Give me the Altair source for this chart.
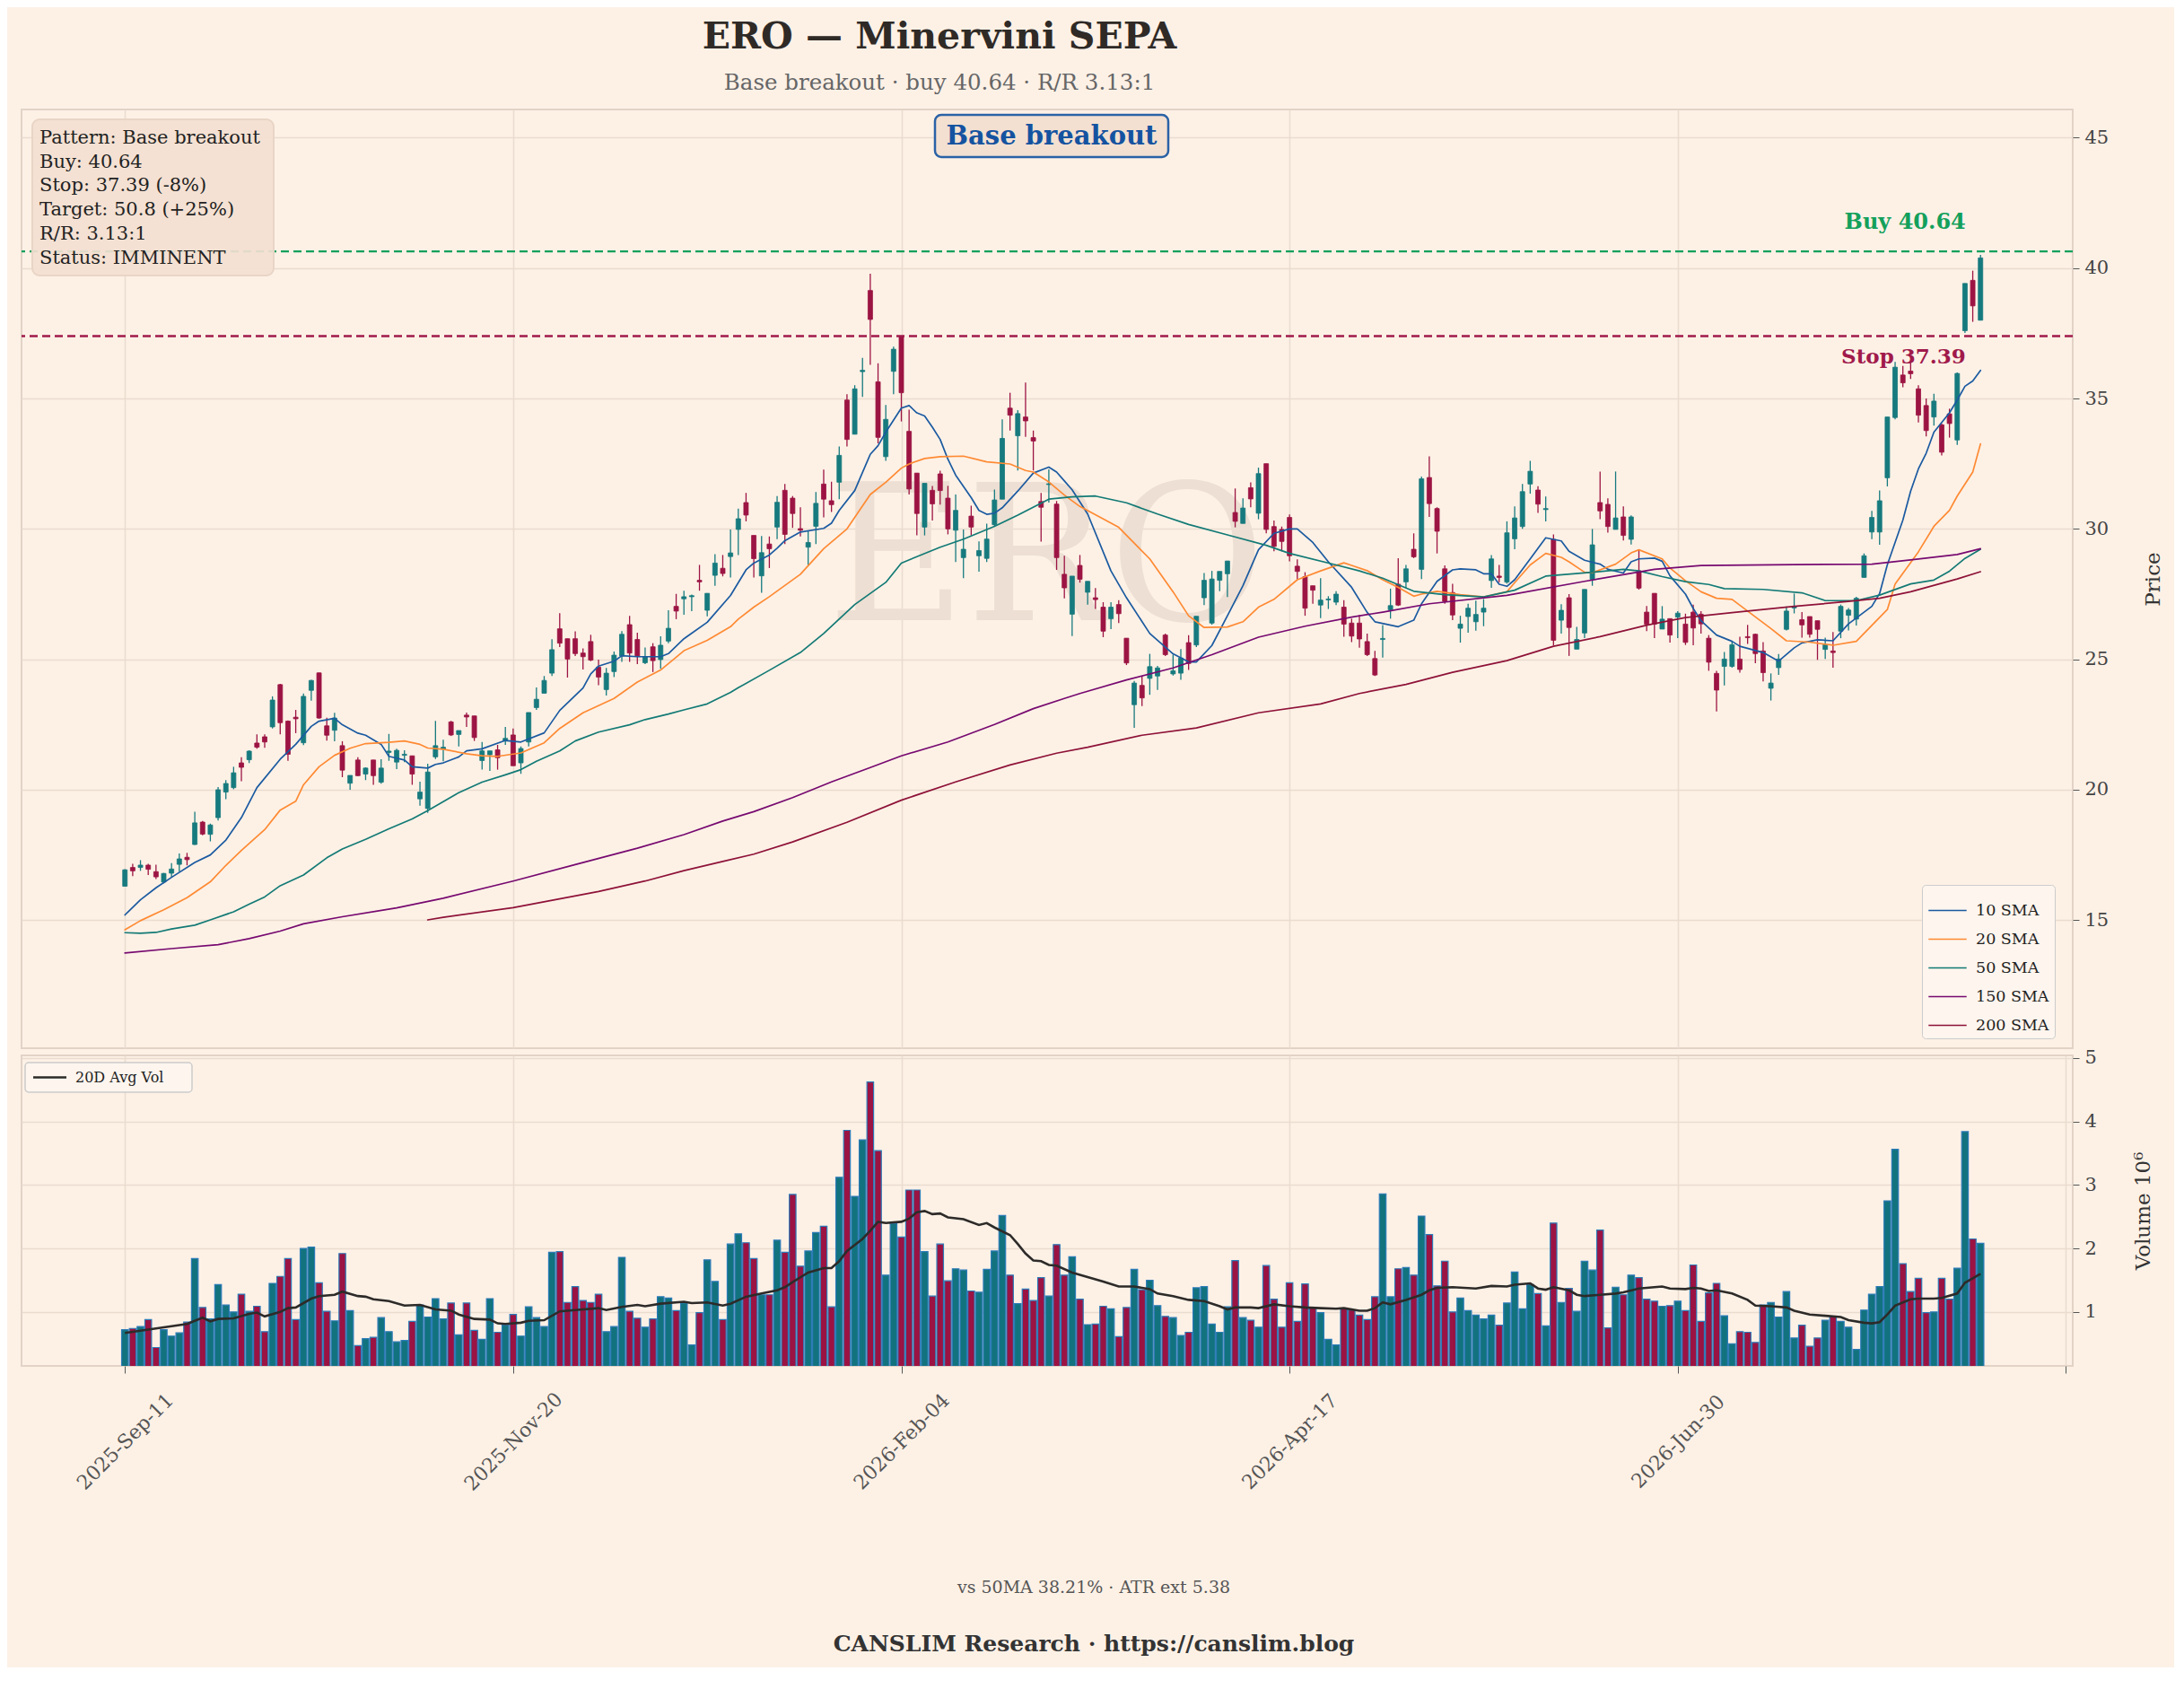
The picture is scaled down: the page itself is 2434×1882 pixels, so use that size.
import altair as alt
import pandas as pd

# ---------------- data ----------------
OPEN = [16.30, 17.02, 17.02, 17.11, 16.86, 16.46, 16.80, 17.14, 17.41, 17.90,
        18.76, 18.29, 18.93, 19.91, 20.08, 21.03, 21.15, 21.79, 22.03, 22.41,
        24.03, 22.63, 22.78, 21.80, 23.81, 24.48, 22.45, 22.28, 21.69, 20.25,
        21.14, 20.60, 21.14, 20.29, 21.43, 21.06, 21.32, 21.30, 19.65, 19.28,
        21.26, 21.55, 22.60, 22.12, 22.86, 22.83, 21.12, 21.34, 21.53, 21.87,
        22.10, 21.03, 21.83, 23.15, 23.70, 24.47, 26.17, 25.79, 25.79, 25.24,
        25.68, 24.70, 23.84, 24.53, 25.13, 26.33, 25.76, 24.87, 25.48, 24.99,
        25.70, 27.03, 27.32, 27.40, 28.03, 26.88, 28.22, 28.49, 28.94, 29.98,
        31.01, 29.75, 28.20, 29.42, 30.07, 31.48, 31.18, 30.01, 29.30, 30.10,
        31.72, 31.08, 31.79, 34.94, 33.63, 36.03, 39.14, 35.64, 32.77, 36.04,
        37.38, 33.74, 32.14, 30.07, 31.48, 32.11, 31.18, 29.95, 28.90, 30.49,
        28.97, 28.87, 30.16, 31.14, 34.63, 33.57, 34.29, 33.50, 31.05, 31.70,
        30.95, 28.26, 26.73, 28.60, 27.57, 27.36, 27.00, 26.56, 27.10, 25.81,
        23.26, 24.00, 24.27, 24.36, 25.93, 24.44, 24.47, 25.64, 25.55, 27.36,
        26.39, 28.03, 28.28, 30.63, 30.21, 31.58, 30.60, 32.50, 30.09, 29.98,
        30.44, 28.57, 28.17, 27.82, 27.08, 27.28, 27.19, 27.00, 26.39, 26.39,
        25.68, 25.03, 25.76, 26.90, 27.88, 27.97, 29.22, 28.45, 31.97, 30.78,
        28.47, 27.56, 26.19, 26.64, 26.44, 26.81, 28.02, 28.19, 27.96, 29.62,
        30.09, 31.72, 31.49, 30.74, 29.60, 26.50, 27.36, 25.39, 26.01, 28.07,
        31.01, 30.94, 29.98, 30.46, 29.60, 28.39, 26.81, 27.53, 26.16, 26.56,
        26.62, 26.35, 26.81, 26.73, 25.81, 24.46, 24.73, 24.73, 25.01, 25.87,
        25.96, 25.32, 23.89, 24.68, 26.15, 26.97, 26.52, 26.64, 26.48, 25.38,
        25.32, 26.08, 26.69, 26.54, 28.14, 29.88, 29.88, 31.96, 34.27, 35.90,
        36.05, 35.37, 34.73, 34.29, 33.99, 34.41, 33.41, 37.60, 39.53, 38.00]

HIGH = [16.95, 17.16, 17.30, 17.16, 17.13, 16.81, 17.19, 17.56, 17.58, 19.16,
        18.80, 18.70, 20.10, 20.37, 20.88, 21.25, 21.51, 22.12, 22.12, 23.58,
        24.06, 22.66, 23.06, 23.69, 24.21, 24.49, 22.76, 22.95, 21.86, 20.55,
        21.25, 20.86, 21.14, 21.17, 22.14, 21.57, 21.51, 21.30, 20.31, 21.00,
        22.64, 21.92, 22.64, 22.27, 22.96, 22.83, 21.83, 21.49, 21.72, 22.41,
        22.35, 21.66, 22.96, 23.92, 24.36, 25.77, 26.77, 25.79, 26.07, 25.42,
        25.94, 24.99, 24.67, 25.30, 26.08, 26.67, 26.02, 25.45, 25.62, 25.88,
        26.88, 27.51, 27.63, 27.48, 28.62, 27.53, 29.03, 29.00, 29.98, 30.78,
        31.38, 29.75, 29.73, 29.71, 31.26, 31.72, 31.26, 30.83, 29.91, 31.41,
        32.27, 31.81, 33.16, 35.16, 35.51, 36.56, 39.78, 36.35, 34.75, 36.99,
        37.38, 34.57, 32.14, 31.75, 31.65, 32.23, 31.65, 31.32, 29.98, 30.89,
        29.52, 30.20, 31.51, 34.20, 35.22, 34.55, 35.61, 33.77, 31.38, 32.28,
        31.07, 28.97, 28.19, 29.00, 27.99, 27.73, 27.19, 27.19, 27.27, 25.81,
        24.17, 24.36, 25.21, 24.75, 25.99, 25.18, 25.39, 25.93, 26.65, 28.31,
        28.39, 28.37, 28.77, 31.55, 31.17, 31.78, 32.35, 32.50, 30.32, 30.09,
        30.55, 28.83, 28.34, 27.82, 28.11, 27.42, 27.61, 27.27, 26.56, 26.70,
        25.99, 25.32, 26.31, 27.71, 28.88, 28.62, 29.83, 32.01, 32.78, 30.83,
        28.60, 27.90, 26.67, 27.13, 27.25, 27.31, 29.00, 28.62, 30.29, 30.86,
        31.72, 32.61, 31.64, 31.24, 29.79, 27.11, 27.50, 26.24, 27.68, 30.00,
        32.20, 31.17, 32.20, 30.86, 30.52, 29.22, 27.04, 27.53, 27.04, 26.56,
        26.85, 26.75, 27.10, 26.85, 25.93, 24.56, 25.28, 25.69, 25.87, 26.32,
        25.99, 25.66, 24.46, 25.20, 27.03, 27.52, 26.81, 26.64, 26.48, 25.83,
        26.05, 27.10, 26.97, 27.40, 29.06, 30.69, 31.47, 34.29, 36.40, 36.25,
        36.45, 35.51, 35.00, 35.18, 34.04, 34.61, 36.00, 39.41, 39.90, 40.51]

LOW = [16.30, 16.69, 16.89, 16.73, 16.58, 16.41, 16.64, 16.87, 17.10, 17.88,
       18.25, 18.02, 18.82, 19.64, 20.02, 20.33, 21.02, 21.57, 21.61, 22.35,
       22.12, 21.11, 22.17, 21.71, 23.41, 22.72, 21.88, 21.86, 20.48, 20.00,
       20.52, 20.37, 20.19, 20.23, 21.11, 20.79, 21.06, 20.19, 19.39, 19.11,
       21.18, 21.09, 22.06, 21.66, 22.41, 21.87, 20.77, 20.72, 20.77, 21.72,
       20.92, 20.61, 21.66, 23.06, 23.70, 24.36, 25.47, 24.30, 25.13, 24.61,
       24.93, 24.01, 23.61, 24.32, 24.90, 24.90, 24.82, 24.82, 24.51, 24.64,
       25.62, 26.54, 26.71, 26.85, 27.63, 26.65, 27.82, 28.18, 28.14, 29.00,
       30.29, 28.14, 27.55, 28.50, 29.61, 29.42, 30.04, 29.71, 28.60, 29.42,
       30.44, 30.65, 31.14, 33.16, 33.63, 35.06, 36.29, 33.28, 32.61, 35.16,
       34.12, 31.32, 29.75, 29.75, 30.32, 30.93, 29.79, 28.73, 28.11, 29.75,
       28.36, 28.73, 30.10, 31.14, 33.77, 32.24, 33.53, 32.24, 29.51, 31.01,
       28.43, 27.34, 25.89, 27.94, 27.10, 26.93, 25.85, 26.16, 26.39, 24.78,
       22.37, 23.21, 23.64, 23.83, 25.13, 24.38, 24.21, 24.59, 25.47, 27.08,
       26.33, 27.61, 27.39, 30.06, 30.21, 30.83, 30.37, 29.83, 29.14, 29.14,
       28.76, 28.07, 26.67, 27.13, 26.58, 26.93, 27.08, 25.87, 25.66, 25.44,
       25.13, 24.36, 25.07, 26.56, 27.04, 27.73, 28.88, 28.08, 30.46, 29.06,
       27.13, 26.50, 25.64, 26.02, 26.10, 26.27, 27.74, 27.96, 27.90, 29.22,
       30.00, 31.35, 30.61, 30.29, 25.53, 25.99, 25.13, 25.39, 25.81, 27.82,
       30.37, 29.86, 29.98, 29.56, 29.40, 27.67, 26.08, 25.81, 26.16, 25.64,
       25.81, 25.55, 25.54, 25.99, 24.56, 23.00, 24.00, 24.68, 24.49, 25.59,
       24.85, 24.15, 23.42, 24.40, 26.11, 26.76, 25.83, 25.83, 24.98, 25.01,
       24.68, 25.81, 26.11, 26.30, 28.14, 29.61, 29.39, 31.63, 34.20, 35.43,
       35.75, 34.08, 33.55, 33.96, 32.82, 33.50, 33.22, 37.51, 37.94, 38.00]

CLOSE = [16.93, 16.89, 17.11, 16.95, 16.66, 16.79, 16.96, 17.35, 17.32, 18.73,
         18.30, 18.65, 20.00, 20.24, 20.65, 20.86, 21.48, 21.63, 21.83, 23.44,
         22.57, 21.36, 22.72, 23.58, 24.19, 22.75, 22.09, 22.75, 20.75, 20.55,
         20.54, 20.83, 20.54, 20.83, 21.48, 21.51, 21.36, 20.60, 19.91, 20.68,
         21.69, 21.63, 22.10, 22.27, 22.79, 22.00, 21.49, 21.49, 21.23, 21.97,
         20.92, 21.58, 22.96, 23.47, 24.19, 25.37, 25.62, 25.01, 25.22, 25.10,
         24.97, 24.32, 24.47, 25.16, 25.96, 25.24, 25.13, 25.10, 24.95, 25.54,
         26.19, 26.85, 27.40, 27.44, 27.97, 27.53, 28.69, 28.29, 29.08, 30.39,
         30.53, 28.86, 29.09, 29.24, 31.02, 29.79, 30.59, 29.95, 29.48, 30.98,
         31.14, 30.93, 32.82, 33.43, 35.37, 36.08, 38.03, 33.51, 34.20, 36.89,
         35.22, 31.53, 30.59, 31.75, 30.96, 31.47, 30.00, 30.71, 29.22, 30.07,
         29.17, 29.61, 31.11, 33.47, 34.36, 34.42, 34.14, 33.37, 30.83, 31.73,
         28.90, 27.74, 28.19, 28.07, 27.99, 27.29, 26.08, 27.00, 26.75, 24.86,
         24.09, 23.52, 24.72, 24.67, 25.18, 24.56, 25.05, 24.84, 26.65, 28.03,
         28.08, 28.37, 28.77, 30.29, 30.80, 31.15, 32.12, 29.98, 29.33, 29.52,
         28.97, 28.37, 26.96, 27.65, 27.27, 27.31, 27.50, 26.35, 25.89, 25.78,
         25.18, 24.40, 25.80, 27.06, 27.08, 28.47, 28.93, 31.92, 30.97, 29.91,
         27.22, 26.70, 26.35, 26.96, 26.72, 26.96, 28.85, 28.14, 29.85, 30.42,
         31.43, 32.21, 30.95, 30.78, 25.73, 26.88, 26.22, 25.76, 27.68, 29.39,
         30.69, 30.09, 30.42, 29.75, 30.46, 27.73, 26.35, 26.35, 26.54, 25.93,
         26.77, 25.65, 26.20, 26.36, 24.89, 23.82, 25.01, 25.56, 24.61, 25.83,
         25.22, 24.49, 24.09, 25.01, 26.85, 27.03, 26.32, 25.96, 26.15, 25.56,
         25.26, 27.03, 26.89, 27.34, 28.97, 30.44, 31.08, 34.29, 36.20, 35.60,
         35.95, 34.36, 33.77, 34.90, 32.94, 34.04, 35.96, 39.41, 38.55, 40.39]

VOLUME_M = [0.72, 0.74, 0.77, 0.88, 0.44, 0.72, 0.62, 0.67, 0.84, 1.84,
            1.07, 0.89, 1.43, 1.11, 1.00, 1.28, 1.01, 1.09, 0.69, 1.45,
            1.56, 1.84, 0.88, 2.00, 2.02, 1.46, 1.01, 0.86, 1.92, 1.02,
            0.47, 0.58, 0.60, 0.91, 0.69, 0.53, 0.55, 0.85, 1.11, 0.92,
            1.21, 0.89, 1.14, 0.64, 1.14, 0.71, 0.57, 1.21, 0.68, 0.79,
            0.96, 0.62, 1.08, 0.91, 0.77, 1.94, 1.95, 1.15, 1.40, 1.18,
            1.15, 1.28, 0.69, 0.77, 1.86, 1.01, 0.90, 0.76, 0.89, 1.24,
            1.22, 1.02, 1.14, 0.48, 0.99, 1.82, 1.48, 0.88, 2.07, 2.23,
            2.09, 1.84, 1.27, 1.27, 2.13, 1.94, 2.85, 1.72, 1.96, 2.25,
            2.35, 1.08, 3.12, 3.86, 2.82, 3.71, 4.62, 3.54, 1.58, 2.39,
            2.18, 2.92, 2.92, 1.95, 1.25, 2.07, 1.49, 1.68, 1.66, 1.33,
            1.31, 1.67, 1.96, 2.52, 1.58, 1.13, 1.36, 1.18, 1.54, 1.25,
            2.06, 1.58, 1.87, 1.20, 0.80, 0.81, 1.09, 1.05, 0.61, 1.07,
            1.67, 1.35, 1.50, 1.10, 0.93, 0.91, 0.63, 0.68, 1.38, 1.40,
            0.81, 0.68, 1.08, 1.81, 0.91, 0.87, 0.76, 1.73, 1.20, 0.76,
            1.46, 0.85, 1.44, 1.07, 0.99, 0.57, 0.48, 1.06, 1.03, 0.95,
            0.88, 1.24, 2.86, 1.24, 1.68, 1.70, 1.58, 2.51, 2.22, 1.41,
            1.80, 1.00, 1.22, 1.02, 0.95, 0.89, 0.95, 0.79, 1.14, 1.63,
            1.05, 1.43, 1.29, 0.78, 2.40, 1.15, 1.37, 1.01, 1.80, 1.66,
            2.29, 0.75, 1.39, 1.27, 1.58, 1.54, 1.20, 1.17, 1.09, 1.10,
            1.17, 1.02, 1.74, 0.85, 1.30, 1.45, 0.94, 0.50, 0.69, 0.68,
            0.52, 1.11, 1.15, 0.92, 1.32, 0.59, 0.79, 0.46, 0.59, 0.87,
            0.92, 0.85, 0.76, 0.41, 1.03, 1.28, 1.40, 2.75, 3.56, 1.76,
            1.32, 1.53, 0.99, 1.00, 1.53, 1.20, 1.69, 3.84, 2.15, 2.08]

# moving-average lines as (bar index, value)
SMA10 = [(0, 15.20), (2, 15.78), (4, 16.24), (6, 16.64), (9, 17.21), (11, 17.50), (13, 18.07),
         (15, 18.93), (17, 20.08), (20, 21.17), (22, 21.74), (24, 22.43), (25, 22.63), (27, 22.74),
         (28, 22.49), (30, 22.17), (31, 22.09), (33, 21.74), (34, 21.28), (36, 21.14), (37, 20.88),
         (39, 20.83), (40, 20.97), (41, 21.03), (43, 21.26), (44, 21.49), (46, 21.57), (49, 21.89),
         (51, 21.83), (54, 22.18), (56, 23.04), (59, 23.90), (60, 24.44), (61, 24.74), (63, 24.93),
         (64, 25.14), (66, 25.10), (69, 25.10), (70, 25.22), (72, 25.79), (75, 26.42), (78, 27.45),
         (80, 28.43), (81, 28.69), (83, 29.00), (84, 29.26), (85, 29.55), (87, 29.88), (90, 30.02),
         (91, 30.22), (92, 30.71), (94, 31.47), (96, 32.86), (97, 33.19), (98, 33.71), (100, 34.63),
         (101, 34.73), (102, 34.45), (103, 34.33), (104, 33.90), (105, 33.43), (106, 32.67),
         (107, 32.06), (109, 31.20), (110, 30.71), (111, 30.56), (112, 30.60), (113, 30.81),
         (115, 31.45), (117, 32.14), (119, 32.37), (120, 32.18), (121, 31.84), (122, 31.50),
         (124, 30.57), (127, 28.39), (129, 27.36), (132, 25.99), (135, 25.21), (137, 24.90),
         (138, 24.90), (140, 25.53), (142, 26.67), (144, 27.82), (146, 29.20), (148, 29.83),
         (150, 30.00), (151, 30.00), (153, 29.48), (155, 28.74), (158, 27.76), (160, 26.80),
         (161, 26.44), (164, 26.25), (166, 26.50), (167, 27.13), (169, 27.99), (171, 28.43),
         (172, 28.47), (174, 28.43), (175, 28.28), (176, 28.28), (177, 27.88), (178, 27.80),
         (179, 28.05), (181, 28.85), (183, 29.66), (185, 29.54), (186, 29.14), (188, 28.80),
         (190, 28.65), (191, 28.45), (193, 28.31), (194, 28.74), (195, 28.85), (197, 28.88),
         (198, 28.76), (199, 28.20), (201, 27.50), (202, 26.95), (203, 26.48), (205, 25.93),
         (207, 25.69), (208, 25.50), (211, 25.26), (213, 24.93), (215, 25.44), (216, 25.63),
         (218, 25.75), (220, 25.71), (222, 26.36), (225, 27.03), (226, 27.52), (227, 28.63),
         (229, 30.34), (230, 31.45), (231, 32.30), (232, 32.90), (233, 33.71), (235, 34.45),
         (236, 34.94), (237, 35.47), (238, 35.67), (239, 36.08)]

SMA20 = [(0, 14.63), (2, 14.98), (5, 15.40), (8, 15.86), (11, 16.47), (13, 17.10), (15, 17.67),
         (18, 18.47), (20, 19.22), (22, 19.56), (23, 20.19), (25, 20.88), (27, 21.32), (29, 21.59),
         (31, 21.77), (34, 21.82), (36, 21.87), (38, 21.74), (39, 21.60), (41, 21.55), (44, 21.38),
         (46, 21.30), (48, 21.28), (51, 21.41), (54, 21.80), (56, 22.35), (59, 22.95), (63, 23.50),
         (66, 24.13), (69, 24.59), (72, 25.33), (75, 25.73), (78, 26.25), (79, 26.54), (81, 27.00),
         (83, 27.40), (87, 28.26), (90, 29.24), (93, 30.00), (96, 31.32), (98, 31.79), (100, 32.33),
         (101, 32.49), (103, 32.70), (105, 32.77), (108, 32.79), (111, 32.57), (114, 32.49),
         (116, 32.24), (117, 32.18), (119, 31.80), (121, 31.30), (123, 30.86), (128, 30.06),
         (132, 28.85), (135, 27.59), (137, 26.67), (139, 26.22), (142, 26.24), (144, 26.44),
         (146, 27.00), (148, 27.30), (151, 28.05), (154, 28.39), (157, 28.70), (158, 28.60),
         (160, 28.40), (162, 28.05), (164, 27.76), (166, 27.42), (167, 27.50), (169, 27.61),
         (172, 27.48), (175, 27.39), (178, 27.59), (179, 27.94), (181, 28.62), (183, 29.06),
         (185, 28.91), (186, 28.74), (188, 28.34), (189, 28.32), (192, 28.65), (194, 29.08),
         (195, 29.20), (198, 28.85), (199, 28.50), (201, 28.01), (203, 27.59), (205, 27.34),
         (207, 27.30), (209, 26.85), (212, 26.18), (214, 25.71), (217, 25.66), (220, 25.54),
         (223, 25.69), (225, 26.30), (227, 26.91), (228, 27.89), (231, 29.12), (233, 30.10),
         (235, 30.71), (236, 31.26), (238, 32.18), (239, 33.26)]

SMA50 = [(0, 14.52), (2, 14.50), (4, 14.53), (6, 14.66), (9, 14.81), (11, 15.01), (14, 15.32),
         (16, 15.61), (18, 15.89), (20, 16.32), (23, 16.73), (26, 17.39), (28, 17.73), (31, 18.10),
         (34, 18.50), (37, 18.88), (39, 19.20), (41, 19.54), (43, 19.89), (46, 20.29), (49, 20.57),
         (51, 20.77), (53, 21.09), (56, 21.49), (58, 21.87), (61, 22.21), (65, 22.49), (67, 22.69),
         (70, 22.90), (72, 23.06), (75, 23.29), (78, 23.73), (79, 23.91), (83, 24.58), (87, 25.26),
         (90, 25.99), (94, 27.10), (98, 27.95), (100, 28.69), (105, 29.30), (108, 29.61),
         (112, 30.10), (115, 30.53), (119, 31.14), (122, 31.23), (125, 31.26), (129, 31.00),
         (133, 30.57), (137, 30.17), (142, 29.77), (147, 29.37), (150, 29.06), (156, 28.62),
         (159, 28.39), (162, 28.11), (166, 27.61), (170, 27.48), (175, 27.39), (179, 27.65),
         (183, 28.19), (189, 28.34), (193, 28.45), (195, 28.39), (198, 28.17), (201, 27.98),
         (204, 27.87), (206, 27.71), (211, 27.68), (216, 27.55), (219, 27.25), (223, 27.25),
         (226, 27.46), (230, 27.89), (233, 28.04), (235, 28.38), (237, 28.87), (239, 29.22)]

SMA150 = [(0, 13.74), (6, 13.91), (12, 14.06), (16, 14.29), (20, 14.58), (23, 14.86), (28, 15.13),
          (35, 15.47), (41, 15.84), (50, 16.50), (58, 17.13), (66, 17.76), (72, 18.28), (77, 18.80),
          (81, 19.16), (86, 19.70), (91, 20.30), (96, 20.85), (100, 21.30), (106, 21.83),
          (112, 22.50), (117, 23.11), (121, 23.50), (123, 23.69), (129, 24.21), (135, 24.67),
          (140, 25.18), (146, 25.85), (152, 26.27), (158, 26.62), (162, 26.81), (168, 27.13),
          (178, 27.45), (188, 27.99), (197, 28.45), (203, 28.60), (215, 28.63), (225, 28.65),
          (230, 28.81), (236, 29.02), (239, 29.24)]

SMA200 = [(39, 15.01), (41, 15.11), (50, 15.48), (61, 16.10), (67, 16.50), (72, 16.90), (77, 17.25),
          (81, 17.53), (86, 18.00), (93, 18.75), (100, 19.60), (107, 20.30), (114, 20.95),
          (120, 21.40), (124, 21.63), (131, 22.09), (138, 22.37), (146, 22.95), (154, 23.29),
          (159, 23.69), (165, 24.04), (171, 24.50), (178, 24.95), (184, 25.50), (190, 25.87),
          (196, 26.31), (201, 26.60), (207, 26.79), (215, 27.03), (222, 27.22), (226, 27.34),
          (230, 27.59), (236, 28.08), (239, 28.36)]

AVG_VOL = [(0, 0.67), (8, 0.81), (10, 0.91), (11, 0.85), (12, 0.89), (14, 0.90), (16, 0.97), (17, 0.99),
           (18, 0.93), (20, 1.00), (21, 1.06), (22, 1.07), (24, 1.21), (25, 1.25), (27, 1.27), (28, 1.32),
           (30, 1.25), (31, 1.24), (32, 1.20), (34, 1.17), (36, 1.10), (38, 1.11), (40, 1.04), (42, 1.02),
           (43, 0.96), (45, 0.89), (47, 0.88), (48, 0.82), (49, 0.81), (51, 0.83), (52, 0.86), (54, 0.87),
           (56, 1.01), (58, 1.03), (61, 1.06), (62, 1.03), (64, 1.08), (66, 1.11), (67, 1.09), (69, 1.13),
           (72, 1.16), (73, 1.14), (75, 1.15), (77, 1.10), (78, 1.13), (80, 1.24), (82, 1.29), (84, 1.34),
           (85, 1.39), (86, 1.47), (88, 1.62), (90, 1.69), (91, 1.69), (92, 1.80), (93, 1.96), (95, 2.15),
           (96, 2.28), (97, 2.42), (98, 2.40), (100, 2.42), (101, 2.47), (102, 2.57), (103, 2.59),
           (104, 2.54), (105, 2.55), (106, 2.49), (108, 2.46), (110, 2.37), (111, 2.40), (112, 2.33),
           (114, 2.21), (115, 2.07), (116, 1.92), (117, 1.81), (118, 1.80), (119, 1.74), (120, 1.73),
           (122, 1.62), (124, 1.55), (126, 1.48), (128, 1.40), (130, 1.40), (132, 1.36), (133, 1.29),
           (135, 1.25), (137, 1.19), (139, 1.17), (141, 1.09), (142, 1.04), (143, 1.07), (145, 1.07),
           (146, 1.06), (148, 1.12), (150, 1.09), (152, 1.07), (154, 1.06), (156, 1.05), (157, 1.06),
           (159, 1.02), (160, 1.02), (161, 1.06), (162, 1.15), (163, 1.12), (165, 1.19), (167, 1.27),
           (168, 1.34), (169, 1.38), (171, 1.39), (174, 1.37), (176, 1.41), (178, 1.40), (179, 1.43),
           (181, 1.45), (182, 1.37), (183, 1.35), (184, 1.39), (186, 1.34), (187, 1.27), (188, 1.25),
           (190, 1.27), (192, 1.29), (193, 1.31), (195, 1.37), (197, 1.39), (198, 1.40), (199, 1.37),
           (201, 1.36), (202, 1.38), (203, 1.37), (204, 1.33), (205, 1.34), (207, 1.29), (209, 1.19),
           (210, 1.10), (212, 1.09), (214, 1.07), (215, 1.02), (217, 0.96), (219, 0.94), (221, 0.92),
           (222, 0.87), (224, 0.83), (225, 0.82), (226, 0.84), (227, 0.96), (228, 1.10), (230, 1.20),
           (231, 1.21), (233, 1.21), (234, 1.22), (236, 1.29), (237, 1.46), (238, 1.53), (239, 1.60)]

TICK_IDX = [0, 50, 100, 150, 200]
TICK_LABELS = ["2025-Sep-11", "2025-Nov-20", "2026-Feb-04", "2026-Apr-17", "2026-Jun-30"]
PRICE_TICKS = [15, 20, 25, 30, 35, 40, 45]
VOL_TICKS = [1, 2, 3, 4, 5]

SMA_NAMES = ["10 SMA", "20 SMA", "50 SMA", "150 SMA", "200 SMA"]
BUY_PRICE = 40.64
STOP_PRICE = 37.39
TITLE = "ERO \u2014 Minervini SEPA"
SUBTITLE = "Base breakout \u00b7 buy 40.64 \u00b7 R/R 3.13:1"
INFO_LINES = ["Pattern: Base breakout", "Buy: 40.64", "Stop: 37.39 (-8%)",
              "Target: 50.8 (+25%)", "R/R: 3.13:1", "Status: IMMINENT"]
BADGE = "Base breakout"
FOOT1 = "vs 50MA 38.21% \u00b7 ATR ext 5.38"
FOOT2 = "CANSLIM Research  \u00b7  https://canslim.blog"

# ---------------- styling ----------------
FONT = "DejaVu Serif"
BG = "#fdf1e6"
GRID = "#eadccf"
FRAME = "#e2d3c6"
UP = "#167a7e"
DN = "#9c1443"
VUP = "#12737f"
VDN = "#9b1343"
VEDGE = "#2c7bb8"
SMA_COLORS = ["#1b5aa0", "#ff8a33", "#137a75", "#770a70", "#8e1238"]
SMA_WIDTHS = [1.7, 1.7, 2.3, 2.3, 3.0]
GREEN = "#13a05b"
STOPC = "#a01a4b"

W, H1, H2 = 2286, 1046, 346
XMIN, XMAX = -12.74, 250.3

df = pd.DataFrame({"i": list(range(len(CLOSE))), "open": OPEN, "high": HIGH,
                   "low": LOW, "close": CLOSE, "vol": VOLUME_M})

rows = []
for name, pts in zip(SMA_NAMES, [SMA10, SMA20, SMA50, SMA150, SMA200]):
    for a, b in pts:
        rows.append({"i": a, "v": b, "name": name})
sma_df = pd.DataFrame(rows)
av_df = pd.DataFrame({"i": [p[0] for p in AVG_VOL], "v": [p[1] for p in AVG_VOL]})

xscale = alt.Scale(domain=[XMIN, XMAX], nice=False, zero=False)
pscale = alt.Scale(domain=[10.09, 46.08], nice=False, zero=False)
vscale = alt.Scale(domain=[0.15, 5.04], nice=False, zero=False)

x_axis_p = alt.Axis(values=TICK_IDX, labels=False, ticks=False, domain=False, title=None, grid=True)
label_expr = "''"
for idx, lab in reversed(list(zip(TICK_IDX, TICK_LABELS))):
    label_expr = f"datum.value == {idx} ? '{lab}' : ({label_expr})"
x_axis_v = alt.Axis(values=TICK_IDX + [250], labelExpr=label_expr, labelAngle=315,
                    labelAlign="center", labelBaseline="middle", labelPadding=76,
                    tickSize=8, labelOverlap=False, labelFlush=False, grid=True, domain=False,
                    title=None, labelFontSize=22, labelColor="#555555")
y_axis_p = alt.Axis(orient="right", values=PRICE_TICKS, title="Price", titleAngle=270,
                    titlePadding=62, grid=True, domain=False, tickSize=7, labelPadding=6)
y_axis_v = alt.Axis(orient="right", values=VOL_TICKS, title="Volume  10\u2076", titleAngle=270,
                    titlePadding=64, grid=True, domain=False, tickSize=7, labelPadding=6)

XP = alt.X("i:Q", scale=xscale, axis=x_axis_p)
XV = alt.X("i:Q", scale=xscale, axis=x_axis_v)
up_cond = "datum.close >= datum.open"
one = pd.DataFrame({"a": [0]})

# ---------------- price panel ----------------
watermark = alt.Chart(one).mark_text(text="ERO", font=FONT, fontSize=212, color="#eddfd3",
                                     align="center", baseline="middle").encode(
    x=alt.value(1142), y=alt.value(505))

wicks = alt.Chart(df).mark_rule(strokeWidth=1.3).encode(
    x=XP, y=alt.Y("low:Q", scale=pscale, axis=y_axis_p), y2="high:Q",
    color=alt.condition(up_cond, alt.value(UP), alt.value(DN)))

bodies = alt.Chart(df).mark_bar(size=5, strokeWidth=0.8).encode(
    x=XP, y=alt.Y("open:Q", scale=pscale, axis=y_axis_p), y2="close:Q",
    fill=alt.condition(up_cond, alt.value(UP), alt.value(DN)),
    stroke=alt.condition(up_cond, alt.value(UP), alt.value(DN)))

sma_lines = alt.Chart(sma_df).mark_line(strokeCap="round", strokeJoin="round").encode(
    x=XP, y=alt.Y("v:Q", scale=pscale, axis=y_axis_p),
    color=alt.Color("name:N", scale=alt.Scale(domain=SMA_NAMES, range=SMA_COLORS),
                    legend=alt.Legend(title=None, orient="none", legendX=2118, legendY=864,
                                      direction="vertical", symbolType="stroke",
                                      symbolStrokeWidth=2, symbolSize=1800, labelFont=FONT,
                                      labelFontSize=17.5, labelColor="#222222",
                                      fillColor="#fdf5ee", strokeColor="#cccccc",
                                      padding=6, cornerRadius=4, rowPadding=1, labelOffset=9)),
    strokeWidth=alt.StrokeWidth("name:N", scale=alt.Scale(domain=SMA_NAMES, range=SMA_WIDTHS),
                                legend=None))

buy_rule = alt.Chart(pd.DataFrame({"y": [BUY_PRICE]})).mark_rule(
    color=GREEN, strokeWidth=2.4, strokeDash=[9, 5]).encode(y=alt.Y("y:Q", scale=pscale, axis=y_axis_p))
stop_rule = alt.Chart(pd.DataFrame({"y": [STOP_PRICE]})).mark_rule(
    color=STOPC, strokeWidth=2.4, strokeDash=[9, 5]).encode(y=alt.Y("y:Q", scale=pscale, axis=y_axis_p))

buy_lbl = alt.Chart(pd.DataFrame({"i": [237.1], "y": [BUY_PRICE], "t": [f"Buy {BUY_PRICE:.2f}"]})).mark_text(
    align="right", baseline="alphabetic", dy=-25, font=FONT, fontSize=24, fontWeight="bold",
    color=GREEN).encode(x=XP, y=alt.Y("y:Q", scale=pscale, axis=y_axis_p), text="t:N")
stop_lbl = alt.Chart(pd.DataFrame({"i": [237.1], "y": [STOP_PRICE], "t": [f"Stop {STOP_PRICE:.2f}"]})).mark_text(
    align="right", baseline="top", dy=12, font=FONT, fontSize=23, fontWeight="bold",
    color=STOPC).encode(x=XP, y=alt.Y("y:Q", scale=pscale, axis=y_axis_p), text="t:N")

info_box = alt.Chart(one).mark_rect(cornerRadius=8, fill="#f3e0d1", fillOpacity=0.92,
                                    stroke="#e9d5c6", strokeWidth=2).encode(
    x=alt.value(12), x2=alt.value(281), y=alt.value(11), y2=alt.value(185))
info_txt = alt.Chart(one).mark_text(text=INFO_LINES, lineHeight=26.7, align="left", baseline="top",
                                    font=FONT, fontSize=21, color="#222222").encode(
    x=alt.value(20), y=alt.value(21))

badge_box = alt.Chart(one).mark_rect(cornerRadius=7, fill="#f3e0d1", stroke="#2a62a6",
                                     strokeWidth=2.5).encode(
    x=alt.value(1018), x2=alt.value(1278), y=alt.value(6), y2=alt.value(53))
badge_txt = alt.Chart(one).mark_text(text=BADGE, align="center", baseline="middle", font=FONT,
                                     fontSize=29, fontWeight="bold", color="#1553a0").encode(
    x=alt.value(1148), y=alt.value(30))

title_txt = alt.Chart(one).mark_text(text=TITLE, align="center", baseline="alphabetic", font=FONT,
                                     fontSize=41, fontWeight="bold", color="#2f2a26").encode(
    x=alt.value(1023), y=alt.value(-68))
subtitle_txt = alt.Chart(one).mark_text(text=SUBTITLE, align="center", baseline="alphabetic",
                                        font=FONT, fontSize=24.5, color="#666666").encode(
    x=alt.value(1023), y=alt.value(-22))

price = alt.layer(watermark, wicks, bodies, sma_lines, buy_rule, stop_rule, buy_lbl, stop_lbl,
                  info_box, info_txt, badge_box, badge_txt, title_txt, subtitle_txt
                  ).properties(width=W, height=H1)

# ---------------- volume panel ----------------
vbars = alt.Chart(df).mark_bar(size=7.4, stroke=VEDGE, strokeWidth=1.2, clip=True).encode(
    x=XV, y=alt.Y("vol:Q", scale=vscale, axis=y_axis_v), y2=alt.datum(0),
    fill=alt.condition(up_cond, alt.value(VUP), alt.value(VDN)))
vavg = alt.Chart(av_df).mark_line(color="#2d2b29", strokeWidth=2.6).encode(
    x=XV, y=alt.Y("v:Q", scale=vscale, axis=y_axis_v))

vleg_box = alt.Chart(one).mark_rect(cornerRadius=4, fill="#fdf5ee", stroke="#cccccc",
                                    strokeWidth=1.5).encode(
    x=alt.value(4), x2=alt.value(190), y=alt.value(8), y2=alt.value(41))
vleg_line = alt.Chart(one).mark_rule(color="#2d2b29", strokeWidth=2.6).encode(
    x=alt.value(13), x2=alt.value(50), y=alt.value(24.5))
vleg_txt = alt.Chart(one).mark_text(text="20D Avg Vol", align="left", baseline="middle", font=FONT,
                                    fontSize=16, color="#222222").encode(
    x=alt.value(60), y=alt.value(25))

foot1 = alt.Chart(one).mark_text(text=FOOT1, align="center", baseline="middle", font=FONT,
                                 fontSize=19, color="#555555").encode(
    x=alt.value(1195), y=alt.value(593))
foot2 = alt.Chart(one).mark_text(text=FOOT2, align="center", baseline="middle", font=FONT,
                                 fontSize=25, fontWeight="bold", color="#333333").encode(
    x=alt.value(1195), y=alt.value(656))

volume = alt.layer(vbars, vavg, vleg_box, vleg_line, vleg_txt, foot1, foot2).properties(width=W, height=H2)

chart = alt.vconcat(price, volume, spacing=8, bounds="flush").configure(
    background=BG, font=FONT,
    padding={"left": 13, "top": 12, "right": 10, "bottom": 12}
).configure_view(
    stroke=FRAME, strokeWidth=2
).configure_axis(
    gridColor=GRID, gridWidth=1.6, labelFont=FONT, titleFont=FONT, labelColor="#444444",
    tickColor="#555555", titleColor="#333333", titleFontWeight="normal", titleFontSize=23,
    labelFontSize=21
)

chart.save("out.html", embed_options={"renderer": "svg", "actions": False})
